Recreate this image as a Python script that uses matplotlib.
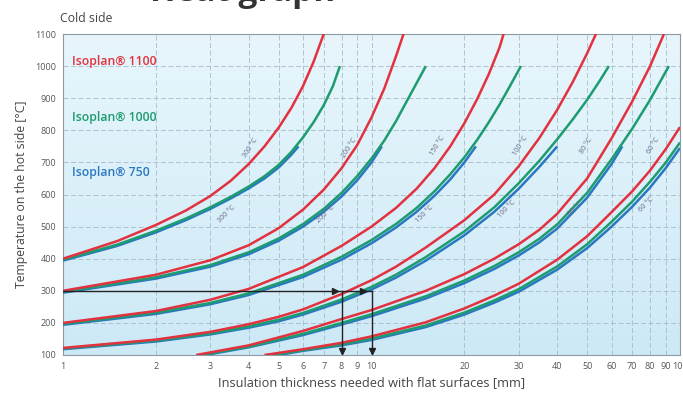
import numpy as np
import matplotlib
matplotlib.use("Agg")
import matplotlib.pyplot as plt
from matplotlib.ticker import FixedLocator, NullLocator
from matplotlib.colors import LinearSegmentedColormap

plt.rcParams['font.family'] = ['Open Sans', 'DejaVu Sans']

# ---- hot-side temperature [°C] against thickness [mm], one family per cold-side temperature ----
# cold side 300 °C
c300_x_1100 = [1, 1.5, 2, 2.5, 3, 3.5, 4, 4.5, 5, 5.5, 6, 6.5, 7]
c300_t_1100 = [400, 455, 505, 550, 595, 643, 695, 750, 808, 870, 938, 1015, 1100]
c300_x_1000 = [1, 1.5, 2, 2.5, 3, 3.5, 4, 4.5, 5, 5.5, 6, 6.5, 7, 7.5, 7.9]
c300_t_1000 = [397, 444, 487, 525, 560, 593, 625, 657, 692, 733, 778, 826, 878, 938, 1000]
c300_x_750 = [1, 1.5, 2, 2.5, 3, 3.5, 4, 4.5, 5, 5.5, 5.8]
c300_t_750 = [394, 440, 482, 520, 555, 588, 619, 650, 684, 724, 750]

# cold side 200 °C
c200_x_1100 = [1, 2, 3, 4, 5, 6, 7, 8, 9, 10, 11, 12, 12.7]
c200_t_1100 = [300, 350, 395, 442, 495, 553, 615, 682, 755, 840, 930, 1030, 1100]
c200_x_1000 = [1, 2, 3, 4, 5, 6, 7, 8, 9, 10, 11, 12, 13, 14, 15]
c200_t_1000 = [297, 342, 380, 420, 463, 508, 555, 605, 658, 712, 768, 828, 890, 947, 1000]
c200_x_750 = [1, 2, 3, 4, 5, 6, 7, 8, 9, 10, 10.8]
c200_t_750 = [294, 338, 375, 414, 456, 500, 546, 594, 645, 700, 750]

# cold side 150 °C
c150_x_1100 = [1, 2, 3, 4, 6, 8, 10, 12, 14, 16, 18, 20, 22, 24, 26, 26.8]
c150_t_1100 = [200, 237, 272, 306, 374, 440, 500, 558, 618, 682, 750, 822, 897, 975, 1058, 1100]
c150_x_1000 = [1, 2, 3, 4, 6, 8, 10, 12, 14, 16, 18, 20, 22, 24, 26, 28, 30.5]
c150_t_1000 = [197, 232, 262, 292, 350, 406, 458, 508, 558, 610, 663, 716, 770, 825, 880, 935, 1000]
c150_x_750 = [1, 2, 3, 4, 6, 8, 10, 12, 14, 16, 18, 20, 21.8]
c150_t_750 = [194, 228, 258, 287, 343, 397, 448, 497, 546, 596, 647, 700, 750]

# cold side 100 °C
c100_x_1100 = [1, 2, 3, 4, 5, 6, 8, 10, 12, 15, 20, 25, 30, 35, 40, 45, 50, 53.4]
c100_t_1100 = [122, 148, 172, 196, 219, 242, 290, 333, 375, 435, 520, 600, 688, 776, 864, 952, 1040, 1100]
c100_x_1000 = [1, 2, 3, 4, 5, 6, 8, 10, 12, 15, 20, 25, 30, 35, 40, 45, 50, 55, 58.8]
c100_t_1000 = [120, 145, 167, 189, 210, 231, 273, 312, 350, 405, 485, 560, 635, 705, 772, 835, 895, 955, 1000]
c100_x_750 = [1, 2, 3, 4, 5, 6, 8, 10, 12, 15, 20, 25, 30, 35, 40]
c100_t_750 = [118, 142, 164, 185, 205, 226, 266, 304, 341, 394, 473, 546, 618, 686, 750]

# cold side 80 °C
c80_x_1100 = [2.7, 4, 6, 8, 10, 15, 20, 25, 30, 35, 40, 50, 60, 70, 80, 88.7]
c80_t_1100 = [100, 130, 175, 212, 240, 300, 352, 400, 445, 490, 540, 650, 775, 890, 1000, 1100]
c80_x_1000 = [2.8, 4, 6, 8, 10, 15, 20, 25, 30, 35, 40, 50, 60, 70, 80, 92]
c80_t_1000 = [100, 126, 166, 200, 227, 283, 332, 377, 420, 462, 507, 605, 710, 805, 895, 1000]
c80_x_750 = [2.9, 4, 6, 8, 10, 15, 20, 25, 30, 35, 40, 50, 60, 65]
c80_t_750 = [100, 124, 162, 195, 221, 276, 324, 368, 410, 451, 494, 590, 695, 750]

# cold side 60 °C
c60_x_1100 = [4.5, 6, 8, 10, 15, 20, 25, 30, 40, 50, 60, 70, 80, 90, 100]
c60_t_1100 = [100, 118, 138, 158, 202, 245, 285, 322, 397, 470, 545, 610, 675, 742, 810]
c60_x_1000 = [4.8, 6, 8, 10, 15, 20, 25, 30, 40, 50, 60, 70, 80, 90, 100]
c60_t_1000 = [100, 115, 133, 151, 192, 232, 270, 305, 376, 445, 515, 578, 640, 700, 762]
c60_x_750 = [5, 6, 8, 10, 15, 20, 25, 30, 40, 50, 60, 70, 80, 90, 100]
c60_t_750 = [100, 113, 130, 147, 187, 226, 263, 297, 366, 433, 500, 562, 622, 683, 745]

cold_labels = ["300 °C", "200 °C", "150 °C", "100 °C", "80 °C", "60 °C"]
upper_label_pos = [(4.05, 745), (8.5, 745), (16.4, 752), (30.5, 752), (49.9, 752), (82.0, 752)]
lower_label_pos = [(3.4, 540), (7.1, 540), (14.9, 540), (27.4, 555), (45.9, 555), (77.8, 570)]

x_ticks = [1, 2, 3, 4, 5, 6, 7, 8, 9, 10, 20, 30, 40, 50, 60, 70, 80, 90, 100]
y_ticks = list(range(100, 1101, 100))

RED = "#e2313f"
GREEN = "#1c9c6f"
BLUE = "#2b78c2"

families = [
    (c300_x_1100, c300_t_1100, c300_x_1000, c300_t_1000, c300_x_750, c300_t_750),
    (c200_x_1100, c200_t_1100, c200_x_1000, c200_t_1000, c200_x_750, c200_t_750),
    (c150_x_1100, c150_t_1100, c150_x_1000, c150_t_1000, c150_x_750, c150_t_750),
    (c100_x_1100, c100_t_1100, c100_x_1000, c100_t_1000, c100_x_750, c100_t_750),
    (c80_x_1100, c80_t_1100, c80_x_1000, c80_t_1000, c80_x_750, c80_t_750),
    (c60_x_1100, c60_t_1100, c60_x_1000, c60_t_1000, c60_x_750, c60_t_750),
]

fig = plt.figure(figsize=(6.83, 3.96), dpi=100)
ax = fig.add_axes([63 / 683, 1 - 355 / 396, 617 / 683, 321 / 396])

ax.set_xscale("log")
ax.set_xlim(1, 100)
ax.set_ylim(100, 1100)

# soft blue background
grad = np.linspace(0, 1, 256).reshape(-1, 1)
bg = LinearSegmentedColormap.from_list("bg", ["#cde9f6", "#e8f6fc"])
ax.imshow(grad, extent=[1, 100, 100, 1100], origin="lower", aspect="auto",
          cmap=bg, zorder=0)

ax.xaxis.set_major_locator(FixedLocator(x_ticks))
ax.xaxis.set_minor_locator(NullLocator())
ax.set_xticklabels([str(v) for v in x_ticks])
ax.set_yticks(y_ticks)
ax.tick_params(axis="both", length=0, labelsize=6.5, labelcolor="#555555", pad=5)
ax.grid(True, which="major", color="#a5bcc8", lw=0.6, ls=(0, (6, 3)))
for s in ax.spines.values():
    s.set_color("#8c9aa3")
    s.set_linewidth(0.8)

for xr, tr, xg, tg, xb, tb in families:
    ax.plot(xb, tb, color=BLUE, lw=1.8, zorder=3, solid_capstyle="butt")
    ax.plot(xg, tg, color=GREEN, lw=1.8, zorder=4, solid_capstyle="butt")
    ax.plot(xr, tr, color=RED, lw=1.8, zorder=5, solid_capstyle="butt")

for lab, (ux, uy), (lx, ly) in zip(cold_labels, upper_label_pos, lower_label_pos):
    ax.text(ux, uy, lab, fontsize=5.2, color="#6a6a8a", rotation=58,
            ha="center", va="center", zorder=6)
    ax.text(lx, ly, lab, fontsize=5.2, color="#6a6a8a", rotation=45,
            ha="center", va="center", zorder=6)

# worked example: 300 °C hot side
ax.plot([1, 10], [300, 300], color="#222222", lw=1.0, zorder=7)
ax.plot([8, 8], [300, 104], color="#222222", lw=1.0, zorder=7)
ax.plot([10, 10], [300, 104], color="#222222", lw=1.0, zorder=7)
ax.plot([7.6, 9.4], [300, 300], ls="none", marker=">", ms=4, color="#222222", zorder=8)
ax.plot([8, 10], [112, 112], ls="none", marker="v", ms=4, color="#222222", zorder=8)

# material legend
ax.text(1.07, 1013, "Isoplan® 1100", color=RED, fontsize=8.8, fontweight="semibold",
        va="center", zorder=8)
ax.text(1.07, 841, "Isoplan® 1000", color=GREEN, fontsize=8.8, fontweight="semibold",
        va="center", zorder=8)
ax.text(1.07, 670, "Isoplan® 750", color=BLUE, fontsize=8.8, fontweight="semibold",
        va="center", zorder=8)

ax.set_xlabel("Insulation thickness needed with flat surfaces [mm]", fontsize=9.2,
              color="#444444", labelpad=4)
ax.set_ylabel("Temperature on the hot side [°C]", fontsize=8.8, color="#444444",
              labelpad=5)

fig.text(60 / 683, 1 - 19 / 396, "Cold side", fontsize=8.8, color="#444444",
         va="center", ha="left")
fig.text(150 / 683, 1 - 1 / 396, "Heat graph", fontsize=24, color="#333333",
         va="baseline", ha="left", fontweight="bold")

fig.savefig("out.png", dpi=100)
